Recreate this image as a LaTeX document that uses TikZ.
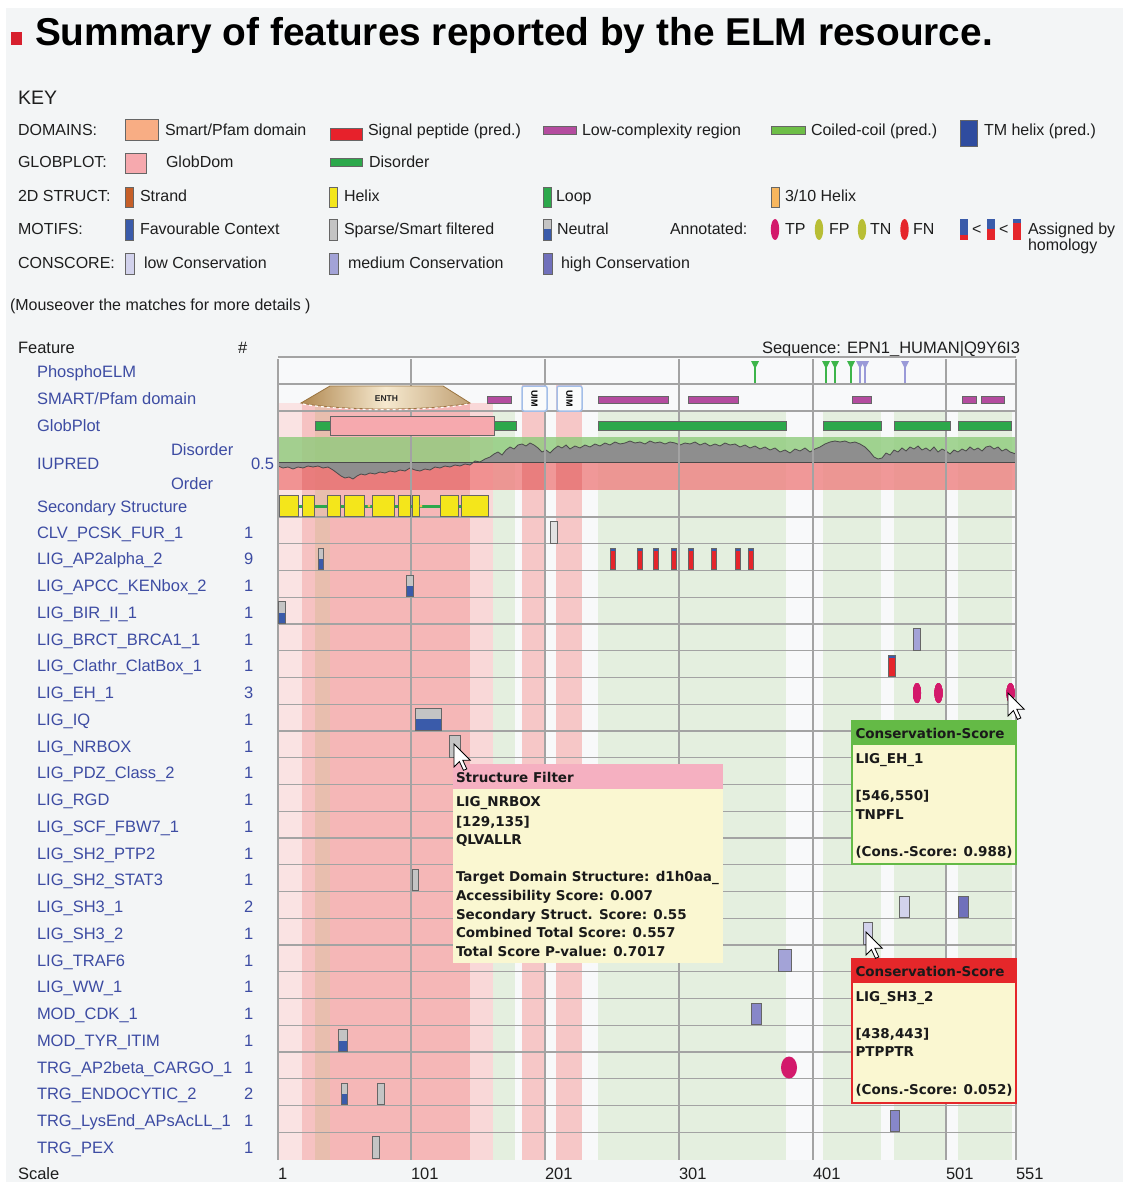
\documentclass[tikz,border=0pt]{standalone}
\usepackage{fontspec}
\setmainfont{Liberation Sans}
\newfontfamily\tipfont{DejaVu Sans}
\definecolor{bgc}{HTML}{F3F5F6}
\definecolor{lblblue}{HTML}{3D4CA3}
\definecolor{txt}{HTML}{1E1E1E}
\definecolor{gridc}{HTML}{A3A3A3}
\definecolor{bord}{HTML}{666666}
\definecolor{titlered}{HTML}{D7202E}
\definecolor{smartor}{HTML}{F8AD84}
\definecolor{sigred}{HTML}{E7212B}
\definecolor{lowcx}{HTML}{B44C9F}
\definecolor{coil}{HTML}{6DBE47}
\definecolor{tmblue}{HTML}{2F4C9F}
\definecolor{globpink}{HTML}{F6A9AE}
\definecolor{disgreen}{HTML}{2CA84B}
\definecolor{strand}{HTML}{C65F28}
\definecolor{helixy}{HTML}{F4E61B}
\definecolor{h310}{HTML}{F7B65E}
\definecolor{favblue}{HTML}{3A5BAA}
\definecolor{sparse}{HTML}{C4C4C4}
\definecolor{sparsel}{HTML}{E2E2E2}
\definecolor{tpmag}{HTML}{D3196B}
\definecolor{fpol}{HTML}{B8BE35}
\definecolor{fnred}{HTML}{E5252B}
\definecolor{lowcons}{HTML}{D2D2EC}
\definecolor{medcons}{HTML}{A3A3D7}
\definecolor{mhcons}{HTML}{8787C9}
\definecolor{highcons}{HTML}{7070BB}
\definecolor{colA}{HTML}{FAE3E3}
\definecolor{colB}{HTML}{F6C2C2}
\definecolor{colC}{HTML}{E8BEAE}
\definecolor{colD}{HTML}{F5B7B7}
\definecolor{colE}{HTML}{F9D8D8}
\definecolor{colG}{HTML}{E4EFDF}
\definecolor{colP}{HTML}{F6C7C7}
\definecolor{iugreen}{HTML}{8ECB7B}
\definecolor{iured}{HTML}{EF8080}
\definecolor{iudark}{HTML}{D85050}
\definecolor{iugray}{HTML}{8E8E8E}
\definecolor{iuline}{HTML}{4A4A4A}
\definecolor{phgreen}{HTML}{3DB54A}
\definecolor{phlav}{HTML}{9A9AD8}
\definecolor{enthlight}{HTML}{F6E9CF}
\definecolor{enthdark}{HTML}{B08850}
\definecolor{enthedge}{HTML}{9A7440}
\definecolor{uimblue}{HTML}{A3BEE8}
\definecolor{tipbody}{HTML}{FAF7D1}
\definecolor{tippink}{HTML}{F5B0C1}
\definecolor{tipgreen}{HTML}{64BA46}
\definecolor{tipred}{HTML}{E5272A}
\definecolor{tiptxt}{HTML}{1A1A1A}
% motif row helpers: row index, x1, x2
\newcommand\motbox[4]{\filldraw[fb,fill=#4] (#2,{517+26.75*#1+4.5}) rectangle (#3,{517+26.75*#1+26});}
\newcommand\neutbox[3]{%
  \fill[sparse] (#2,{517+26.75*#1+4.5}) rectangle (#3,{517+26.75*#1+26});
  \fill[favblue] (#2,{517+26.75*#1+15.5}) rectangle (#3,{517+26.75*#1+26});
  \draw[fb] (#2,{517+26.75*#1+4.5}) rectangle (#3,{517+26.75*#1+26});}
\newcommand\homobox[3]{%
  \fill[fnred] (#2,{517+26.75*#1+4.5}) rectangle (#3,{517+26.75*#1+26});
  \fill[favblue] (#2,{517+26.75*#1+4.5}) rectangle (#3,{517+26.75*#1+7});
  \draw[fb] (#2,{517+26.75*#1+4.5}) rectangle (#3,{517+26.75*#1+26});}
\newcommand\tpell[4]{\fill[tpmag] (#2,{517+26.75*#1+15.5}) ellipse [x radius=#3, y radius=#4];}
\newcommand\phpin[2]{%
  \draw[#2,line width=1.6pt] (#1,364) -- (#1,383);
  \fill[#2] ({#1-4},361) -- ({#1+4},361) -- (#1,369) -- cycle;}
\newcommand\cursorat[2]{%
  \begin{scope}[shift={(#1,#2)},scale=1.35]
  \filldraw[fill=white,draw=black,line width=0.8pt,line join=miter] (0,0) -- (0,17) -- (4,13) -- (7,19.5) -- (9.5,18.5) -- (6.5,12) -- (12,12) -- cycle;
  \end{scope}}
\begin{document}
\begin{tikzpicture}[x=1pt,y=-1pt,
  every node/.style={inner sep=0pt,outer sep=0pt},
  keyt/.style={anchor=base west,font=\fontsize{16}{18}\selectfont,text=txt},
  lbl/.style={anchor=base west,font=\fontsize{16.5}{18}\selectfont,text=lblblue},
  tip/.style={anchor=base west,font=\tipfont\bfseries\fontsize{13.5}{15}\selectfont,text=tiptxt},
  kb/.style={draw=bord,line width=0.8pt},
  fb/.style={draw=bord,line width=0.9pt},
  gridl/.style={draw=gridc,line width=1.4pt}]
\useasboundingbox (0,0) rectangle (1123,1182);
\fill[white] (0,0) rectangle (1123,1182);
\fill[bgc] (6,8) rectangle (1123,1182);

% ---------- title ----------
\fill[titlered] (11,32) rectangle (22,45);
\node[anchor=base west,font=\bfseries\fontsize{39}{40}\selectfont,text=black] (title) at (35,46)
  {\resizebox{958pt}{!}{Summary of features reported by the ELM resource.}};

% ---------- key ----------
\node[anchor=base west,font=\fontsize{19.5}{20}\selectfont,text=txt] (key) at (18,105) {KEY};
\node[keyt] (kdom) at (18,135.5) {DOMAINS:};
\filldraw[kb,fill=smartor] (125,119) rectangle (158,140);
\node[keyt] (k1) at (165,135.5) {Smart/Pfam domain};
\filldraw[kb,fill=sigred] (330,128) rectangle (362,140);
\node[keyt] (k2) at (368,135.5) {Signal peptide (pred.)};
\filldraw[kb,fill=lowcx] (543,126) rectangle (576,134);
\node[keyt] (k3) at (582,135.5) {Low-complexity region};
\filldraw[kb,fill=coil] (771,126) rectangle (805,134);
\node[keyt] (k4) at (811,135.5) {Coiled-coil (pred.)};
\filldraw[kb,fill=tmblue] (960,120) rectangle (977,146);
\node[keyt] (k5) at (984,135.5) {TM helix (pred.)};

\node[keyt] (kglob) at (18,168) {GLOBPLOT:};
\filldraw[kb,fill=globpink] (125,153) rectangle (146,173);
\node[keyt] (k6) at (166,168) {GlobDom};
\filldraw[kb,fill=disgreen] (330,158) rectangle (362,166);
\node[keyt] (k7) at (369,168) {Disorder};

\node[keyt] (k2d) at (18,202) {2D STRUCT:};
\filldraw[kb,fill=strand] (125,187) rectangle (133,207);
\node[keyt] (k8) at (140,202) {Strand};
\filldraw[kb,fill=helixy] (329,187) rectangle (337,207);
\node[keyt] (k9) at (344,202) {Helix};
\filldraw[kb,fill=disgreen] (543,187) rectangle (551,207);
\node[keyt] (k10) at (556,202) {Loop};
\filldraw[kb,fill=h310] (771,187) rectangle (779,207);
\node[keyt] (k11) at (785,202) {3/10 Helix};

\node[keyt] (kmot) at (18,235) {MOTIFS:};
\filldraw[kb,fill=favblue] (125,219) rectangle (133,240);
\node[keyt] (k12) at (140,235) {Favourable Context};
\filldraw[kb,fill=sparse] (329,219) rectangle (337,240);
\node[keyt] (k13) at (344,235) {Sparse/Smart filtered};
\fill[sparse] (543,219) rectangle (551,229);
\fill[favblue] (543,229) rectangle (551,240);
\draw[kb] (543,219) rectangle (551,240);
\node[keyt] (k14) at (557,235) {Neutral};
\node[keyt] (k15) at (670,235) {Annotated:};
\fill[tpmag] (775,229.5) ellipse [x radius=4.2, y radius=10.5];
\node[keyt] (k16) at (785,235) {TP};
\fill[fpol] (819,229.5) ellipse [x radius=4.2, y radius=10.5];
\node[keyt] (k17) at (829,235) {FP};
\fill[fpol] (862,229.5) ellipse [x radius=4.2, y radius=10.5];
\node[keyt] (k18) at (870,235) {TN};
\fill[fnred] (904.5,229.5) ellipse [x radius=4.2, y radius=10.5];
\node[keyt] (k19) at (913,235) {FN};
\fill[favblue] (960,219) rectangle (968,235);
\fill[fnred] (960,235) rectangle (968,240);
\node[keyt] (lt1) at (972,235) {<};
\fill[favblue] (987,219) rectangle (995,229);
\fill[fnred] (987,229) rectangle (995,240);
\node[keyt] (lt2) at (999,235) {<};
\fill[favblue] (1013,219) rectangle (1021,223);
\fill[fnred] (1013,223) rectangle (1021,240);
\node[keyt] (k20) at (1028,235) {Assigned by};
\node[keyt] (k21) at (1028,251) {homology};

\node[keyt] (kcons) at (18,269) {CONSCORE:};
\filldraw[kb,fill=lowcons] (125,253) rectangle (134,274);
\node[keyt] (k22) at (144,269) {low Conservation};
\filldraw[kb,fill=medcons] (329,253) rectangle (338,274);
\node[keyt] (k23) at (348,269) {medium Conservation};
\filldraw[kb,fill=highcons] (543,253) rectangle (552,274);
\node[keyt] (k24) at (561,269) {high Conservation};

\node[keyt] (mouse) at (10,310) {(Mouseover the matches for more details )};

% ---------- header ----------
\node[keyt,font=\fontsize{16.5}{18}\selectfont] (feat) at (18,353) {Feature};
\node[keyt,font=\fontsize{16.5}{18}\selectfont] (hash) at (238,353) {\#};
\node[keyt,font=\fontsize{16.5}{18}\selectfont] (seq) at (762,353) {Sequence: EPN1\_HUMAN|Q9Y6I3};

% ---------- track labels ----------
\node[lbl] (tphos) at (37,377) {PhosphoELM};
\node[lbl] (tsmart) at (37,404) {SMART/Pfam domain};
\node[lbl] (tglob) at (37,431) {GlobPlot};
\node[lbl] (tiu) at (37,469) {IUPRED};
\node[lbl] (tdis) at (171,455) {Disorder};
\node[lbl] (tord) at (171,489) {Order};
\node[lbl] (thalf) at (251,469) {0.5};
\node[lbl] (tsec) at (37,512) {Secondary Structure};
\foreach \lab/\num [count=\i from 0] in {CLV\_PCSK\_FUR\_1/1,LIG\_AP2alpha\_2/9,LIG\_APCC\_KENbox\_2/1,LIG\_BIR\_II\_1/1,LIG\_BRCT\_BRCA1\_1/1,LIG\_Clathr\_ClatBox\_1/1,LIG\_EH\_1/3,LIG\_IQ/1,LIG\_NRBOX/1,LIG\_PDZ\_Class\_2/1,LIG\_RGD/1,LIG\_SCF\_FBW7\_1/1,LIG\_SH2\_PTP2/1,LIG\_SH2\_STAT3/1,LIG\_SH3\_1/2,LIG\_SH3\_2/1,LIG\_TRAF6/1,LIG\_WW\_1/1,MOD\_CDK\_1/1,MOD\_TYR\_ITIM/1,TRG\_AP2beta\_CARGO\_1/1,TRG\_ENDOCYTIC\_2/2,TRG\_LysEnd\_APsAcLL\_1/1,TRG\_PEX/1}
{
  \node[lbl] (lab\i) at (37,{538+26.75*\i}) {\lab};
  \node[lbl] (num\i) at (244,{538+26.75*\i}) {\num};
}

% ---------- plot background ----------
\fill[white!40!bgc] (278,357) rectangle (1016,1160);
\fill[colA] (278,403) rectangle (302,1160);
\fill[colB] (302,403) rectangle (315,1160);
\fill[colC] (315,403) rectangle (330,1160);
\fill[colD] (330,403) rectangle (470,1160);
\fill[colE] (470,403) rectangle (493,1160);
\fill[colG] (493,411) rectangle (515,1160);
\fill[colP] (522,385) rectangle (545,1160);
\fill[colP] (556,385) rectangle (582,1160);
\fill[colG] (598,411) rectangle (786,1160);
\fill[colG] (823,411) rectangle (881,1160);
\fill[colG] (894,411) rectangle (947,1160);
\fill[colG] (958,411) rectangle (1012,1160);

% IUPRED bands
\fill[iugreen,opacity=0.8] (278,437) rectangle (1016,462.5);
\fill[iured,opacity=0.8] (278,462.5) rectangle (1016,490);
\fill[iudark,opacity=0.25] (302,462.5) rectangle (470,490);
\fill[iudark,opacity=0.25] (522,462.5) rectangle (545,490);
\fill[iudark,opacity=0.25] (556,462.5) rectangle (582,490);
\filldraw[fill=iugray,draw=iuline,line width=0.8pt] (278,462.5) -- plot coordinates {
(278,466) (283,468) (288,467) (293,469) (298,467) (303,468) (308,466) (313,467) (318,466) (323,468)
(328,467) (333,470) (337,473) (341,476) (345,478) (349,477) (353,479) (357,476) (361,474) (365,475)
(370,473) (375,474) (380,472) (385,473) (390,471) (395,472) (400,470) (405,471) (410,468) (415,470)
(420,471) (425,469) (430,470) (435,467) (440,468) (445,466) (450,467) (455,465) (460,466) (465,464)
(470,465) (475,461) (480,462) (485,459) (490,457) (494,454) (498,452) (502,455) (506,450) (510,447)
(514,449) (518,445) (522,444) (526,446) (530,443) (534,445) (538,448) (542,452) (546,450) (550,453)
(554,449) (558,446) (562,448) (566,445) (570,449) (575,446) (580,448) (585,445) (590,447) (595,444)
(600,446) (605,443) (610,445) (615,442) (620,444) (625,443) (630,441) (635,443) (640,442) (645,444)
(650,441) (655,443) (660,442) (665,444) (670,442) (675,443) (680,445) (685,443) (690,444) (695,442)
(700,445) (705,443) (710,446) (715,444) (720,446) (725,443) (730,445) (735,444) (740,447) (745,445)
(750,448) (755,446) (760,449) (765,447) (770,450) (775,448) (780,452) (785,450) (790,453) (795,449)
(800,451) (805,448) (810,452) (815,449) (820,447) (825,444) (830,442) (835,441) (840,442) (845,441)
(850,443) (855,442) (860,444) (865,447) (870,452) (874,457) (878,459) (882,458) (886,453) (890,455)
(894,450) (898,452) (902,448) (906,451) (910,447) (914,449) (918,446) (922,450) (926,448) (930,451)
(934,447) (938,452) (942,449) (946,451) (950,454) (954,450) (958,452) (962,449) (966,451) (970,447)
(974,450) (978,448) (982,451) (986,447) (990,446) (994,449) (998,447) (1002,451) (1006,449) (1010,452) (1016,454)}
 -- (1016,462.5) -- cycle;

% ---------- grid ----------
\draw[gridl] (278,357) -- (1016,357);
\draw[gridl] (278,384) -- (1016,384);
\draw[gridl] (278,411) -- (1016,411);
\foreach \k in {0,...,23} \draw[gridl] (278,{517+26.75*\k}) -- (1016,{517+26.75*\k});
\foreach \x in {278,411,545,679,813,946,1016} \draw[gridl] (\x,359) -- (\x,1160);

% ---------- PhosphoELM ----------
\phpin{755}{phgreen}
\phpin{826}{phgreen}
\phpin{835}{phgreen}
\phpin{851}{phgreen}
\phpin{860}{phlav}
\phpin{865}{phlav}
\phpin{905}{phlav}

% ---------- SMART ----------
\shadedraw[left color=enthdark,right color=enthdark!80!white,middle color=enthlight,draw=enthedge,line width=0.8pt]
  (330,386) -- (443,386) -- (470,403) .. controls (430,411) and (341,411) .. (301,403) -- cycle;
\draw[white!85!enthlight,dashed,line width=1.2pt] (303,404) .. controls (341,411.5) and (430,411.5) .. (468,404);
\node[font=\bfseries\fontsize{8.5}{9}\selectfont,text=black!85] (enth) at (386.5,399) {ENTH};
\filldraw[fb,fill=lowcx] (487,396) rectangle (511,403);
\foreach \a in {522,557} {
  \filldraw[draw=uimblue,fill=white!60!bgc,line width=1.5pt,rounded corners=2pt] (\a,386) rectangle ({\a+25},411);
  \node[rotate=-90,font=\bfseries\fontsize{9}{9}\selectfont,text=black] at ({\a+12.5},398.5) {UIM};
}
\foreach \a/\b in {598/668,688/738,852/871,962/976,981/1004}
  \filldraw[fb,fill=lowcx] (\a,396) rectangle (\b,403);

% ---------- GlobPlot ----------
\filldraw[fb,fill=disgreen] (315,421.5) rectangle (331,430);
\filldraw[fb,fill=disgreen] (494,421.5) rectangle (516,430);
\filldraw[fb,fill=globpink] (330,416) rectangle (494,435.5);
\foreach \a/\b in {598/786,823/881,894/950,958/1011}
  \filldraw[fb,fill=disgreen] (\a,421.5) rectangle (\b,430);

% ---------- secondary structure ----------
\draw[disgreen,line width=3pt] (279,506) -- (489,506);
\foreach \a/\b in {279/298,302/314,327/340,344/364,372/394,398/410,412/419,440/458,461/488}
  \filldraw[fb,fill=helixy] (\a,495) rectangle (\b,516);
\fill[h310] (369,506) circle (1.6pt);
\fill[h310] (421,506) circle (1.6pt);

% ---------- motif rows ----------
\motbox{0}{550}{557}{sparsel}
\neutbox{1}{318}{323}
\foreach \a in {610,637,653,671,688,711,735,748} \homobox{1}{\a}{\a+5}
\neutbox{2}{406}{413}
\neutbox{3}{278.5}{285.5}
\motbox{4}{913}{920.5}{medcons}
\homobox{5}{888}{895}
\tpell{6}{917}{4}{10}
\tpell{6}{938.5}{4}{10}
\tpell{6}{1010.5}{4}{10}
\fill[sparse] (415,{517+26.75*7+4.5}) rectangle (441,{517+26.75*7+15});
\fill[favblue] (415,{517+26.75*7+15}) rectangle (441,{517+26.75*7+26});
\draw[fb] (415,{517+26.75*7+4.5}) rectangle (441,{517+26.75*7+26});
\motbox{8}{449}{460}{sparse}
\motbox{13}{412}{418.5}{sparse}
\motbox{14}{899}{909}{lowcons}
\motbox{14}{958}{968}{highcons}
\motbox{15}{863}{872}{lowcons}
\motbox{16}{778}{791}{medcons}
\motbox{18}{751}{761}{mhcons}
\neutbox{19}{338}{347}
\tpell{20}{789}{8}{11}
\neutbox{21}{341}{347.5}
\motbox{21}{377}{384}{sparse}
\motbox{22}{890}{899}{mhcons}
\motbox{23}{372}{379.5}{sparse}

% ---------- tooltips ----------
\fill[tipbody] (453,789) rectangle (722.7,962.7);
\fill[tippink] (453,764) rectangle (722.7,789);
\node[tip] (s0) at (456,782.5) {Structure Filter};
\node[tip] (s1) at (456,806.5) {LIG\_NRBOX};
\node[tip] (s2) at (456,826.5) {[129,135]};
\node[tip] (s3) at (456,844) {QLVALLR};
\node[tip] (s4) at (456,881.5) {Target Domain Structure: d1h0aa\_};
\node[tip] (s5) at (456,900.5) {Accessibility Score: 0.007};
\node[tip] (s6) at (456,919) {Secondary Struct. Score: 0.55};
\node[tip] (s7) at (456,937.5) {Combined Total Score: 0.557};
\node[tip] (s8) at (456,956.5) {Total Score P-value: 0.7017};

\fill[tipbody] (851.7,745) rectangle (1016,864.3);
\fill[tipgreen] (851.7,720.7) rectangle (1016,745);
\draw[tipgreen,line width=2pt] (851.7,720.7) rectangle (1016,864.3);
\node[tip] (g0) at (855.5,738) {Conservation-Score};
\node[tip] (g1) at (855.5,763) {LIG\_EH\_1};
\node[tip] (g2) at (855.5,800.5) {[546,550]};
\node[tip] (g3) at (855.5,819) {TNPFL};
\node[tip] (g4) at (855.5,856.5) {(Cons.-Score: 0.988)};

\fill[tipbody] (851.7,983.3) rectangle (1016,1102.7);
\fill[tipred] (851.7,959) rectangle (1016,983.3);
\draw[tipred,line width=2pt] (851.7,959) rectangle (1016,1102.7);
\node[tip] (r0) at (855.5,976.5) {Conservation-Score};
\node[tip] (r1) at (855.5,1001) {LIG\_SH3\_2};
\node[tip] (r2) at (855.5,1038) {[438,443]};
\node[tip] (r3) at (855.5,1056.5) {PTPPTR};
\node[tip] (r4) at (855.5,1094) {(Cons.-Score: 0.052)};

% ---------- cursors ----------
\cursorat{1008}{693}
\cursorat{454}{744}
\cursorat{866}{932}

% ---------- scale ----------
\node[keyt,font=\fontsize{16.5}{18}\selectfont] (scale) at (18,1179) {Scale};
\foreach \x/\t in {278/1,411/101,545/201,679/301,813/401,946/501,1016/551}
  \node[keyt,font=\fontsize{16.5}{18}\selectfont] (sc\t) at (\x,1179) {\t};
\end{tikzpicture}
\end{document}
